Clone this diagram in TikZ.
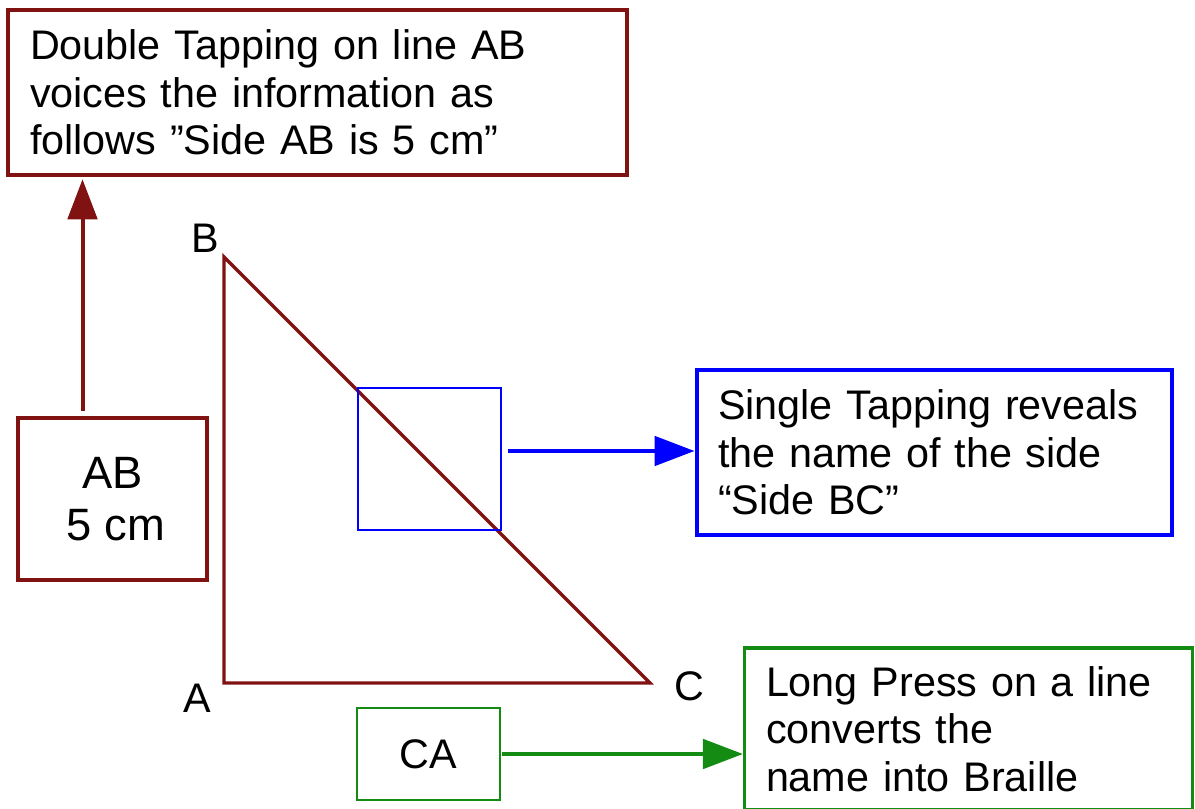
\documentclass[tikz,border=0pt]{standalone}
\usepackage{fontspec}
\setmainfont{Liberation Sans}
\usetikzlibrary{arrows.meta,calc}
\definecolor{dred}{RGB}{128,18,18}
\definecolor{bblue}{RGB}{0,0,255}
\definecolor{ggreen}{RGB}{20,140,20}
\begin{document}
\begin{tikzpicture}[x=0.75pt,y=-0.75pt,
  txt/.style={font=\fontsize{31pt}{35.5pt}\selectfont},
  infobox/.style={txt,draw,rectangle,align=left,inner xsep=16pt,inner ysep=0pt,anchor=center},
  arr/.style={line width=3pt,-{Triangle[length=30pt,width=22pt]}},
  lab/.style={txt,inner sep=0pt}
]
\useasboundingbox (0,0) rectangle (1195,809);
% top box
\node[infobox,draw=dred,line width=2.4pt,minimum width=619*0.75pt,minimum height=165*0.75pt,text width=(619-44)*0.75pt] (top) at (317.5,92.5)
 {Double Tapping on line AB\\voices the information as\\follows ”Side AB is 5 cm”};
% AB box
\node[font=\fontsize{34pt}{39pt}\selectfont,draw=dred,line width=2.8pt,rectangle,minimum width=189*0.75pt,minimum height=162*0.75pt,align=center,inner sep=0pt] (ab) at (112.5,499)
 {AB\hspace{10pt}\\\hspace{5pt}5 cm};
\draw[arr,draw=dred,fill=dred] ([xshift=-30*0.75pt,yshift=4pt]ab.north) coordinate (s1) -- ([yshift=-2pt]s1 |- top.south);
% triangle
\coordinate (A) at (224,683);
\coordinate (B) at (224,257);
\coordinate (C) at (650,683);
\draw[dred,line width=2.6pt,line join=miter] (B) -- (A) -- (C) -- cycle;
\node[lab] (lB) at (205,238) {B};
\node[lab] (lA) at (197,698) {A};
\node[lab] (lC) at (689,686) {C};
% blue square and box
\node[draw=bblue,line width=0.9pt,rectangle,minimum width=143*0.75pt,minimum height=142*0.75pt,inner sep=0pt] (sq) at (429.5,459) {};
\node[infobox,draw=bblue,line width=3.2pt,minimum width=475*0.75pt,minimum height=165*0.75pt,text width=(475-42)*0.75pt] (bbox) at (934.5,452.5)
 {Single Tapping reveals\\the name of the side\\“Side BC”};
\draw[arr,draw=bblue,fill=bblue] ([xshift=5pt,yshift=6pt]sq.east) -- ([yshift=6pt]sq.east -| bbox.west);
% green
\node[txt,draw=ggreen,line width=1.4pt,rectangle,minimum width=143*0.75pt,minimum height=92*0.75pt,inner sep=0pt] (ca) at (428.5,754) {CA};
\node[infobox,draw=ggreen,line width=2.6pt,minimum width=447*0.75pt,minimum height=162*0.75pt,text width=(447-42)*0.75pt] (gbox) at (968.5,729)
 {Long Press on a line\\converts the\\name into Braille};
\draw[arr,draw=ggreen,fill=ggreen] ([xshift=1pt]ca.east) -- (ca.east -| gbox.west);
\end{tikzpicture}
\end{document}
